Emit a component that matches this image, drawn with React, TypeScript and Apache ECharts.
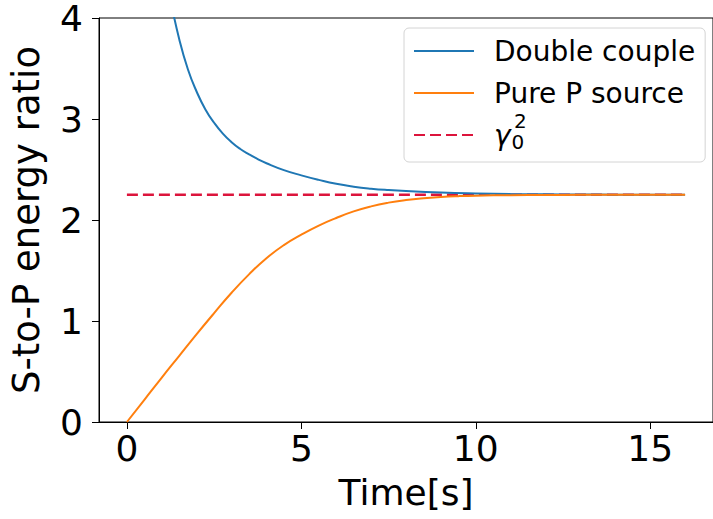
import React, { useEffect, useRef } from "react";
import * as echarts from "echarts";

const dcTimes = [1.25, 1.5, 1.75, 2.0, 2.25, 2.5, 2.75, 3.0, 3.25, 3.5, 3.75, 4.0, 4.5, 5.0, 5.5, 6.0, 6.5, 7.0, 7.5, 8.0, 9.0, 10, 11, 12, 13, 14, 15, 16];
const dcValues = [4.18, 3.79, 3.49, 3.27, 3.095, 2.963, 2.855, 2.77, 2.703, 2.65, 2.603, 2.562, 2.494, 2.442, 2.397, 2.358, 2.33, 2.31, 2.296, 2.286, 2.272, 2.263, 2.257, 2.254, 2.252, 2.251, 2.25, 2.25];

const ppTimes = [0, 0.5, 1.0, 1.5, 2.0, 2.5, 3.0, 3.5, 4.0, 4.5, 5.0, 5.5, 6.0, 6.5, 7.0, 7.5, 8.0, 8.5, 9.0, 9.5, 10, 11, 12, 13, 14, 16];
const ppValues = [0, 0.22, 0.44, 0.655, 0.87, 1.078, 1.28, 1.462, 1.622, 1.752, 1.855, 1.945, 2.02, 2.085, 2.135, 2.172, 2.198, 2.216, 2.228, 2.236, 2.241, 2.246, 2.248, 2.249, 2.25, 2.25];

const gammaTimes = [0, 16];
const gammaValues = [2.25, 2.25];

const xTicks = [0, 5, 10, 15];

const FONT = "DejaVu Sans";

export default function App() {
  const ref = useRef<HTMLDivElement>(null);
  useEffect(() => {
    if (!ref.current) return;
    const chart = echarts.init(ref.current, null, { renderer: "svg" });
    const zip = (t: number[], v: number[]) => t.map((x, i) => [x, v[i]]);
    chart.setOption({
      animation: false,
      backgroundColor: "#fff",
      grid: {
        left: 96,
        top: 15,
        right: -6,
        bottom: 97,
        show: true,
        borderColor: "#000",
        borderWidth: 1,
        backgroundColor: "transparent",
      },
      xAxis: {
        type: "value",
        min: -0.8,
        max: 16.8,
        name: "Time[s]",
        nameLocation: "middle",
        nameGap: 52,
        nameTextStyle: { fontFamily: FONT, fontSize: 36, color: "#000" },
        axisLine: { show: true, onZero: false, lineStyle: { color: "#000", width: 1 } },
        axisTick: { show: true, length: 7, inside: false, customValues: xTicks, lineStyle: { color: "#000" } },
        axisLabel: { customValues: xTicks, fontFamily: FONT, fontSize: 36, color: "#000", margin: 8 },
        splitLine: { show: false },
      },
      yAxis: {
        type: "value",
        min: 0,
        max: 4,
        interval: 1,
        name: "S-to-P energy ratio",
        nameLocation: "middle",
        nameGap: 54,
        nameTextStyle: { fontFamily: FONT, fontSize: 37, color: "#000" },
        axisLine: { show: true, onZero: false, lineStyle: { color: "#000", width: 1 } },
        axisTick: { show: true, length: 7, lineStyle: { color: "#000" } },
        axisLabel: { fontFamily: FONT, fontSize: 36, color: "#000", margin: 16 },
        splitLine: { show: false },
      },
      legend: {
        orient: "vertical",
        left: 404,
        top: 28,
        padding: [6, 10, 10, 9],
        itemWidth: 60,
        itemHeight: 14,
        itemGap: 8,
        backgroundColor: "rgba(255,255,255,0.8)",
        borderColor: "#d4d4d4",
        borderWidth: 1,
        borderRadius: 5,
        itemStyle: { opacity: 0 },
        formatter: (name: string) => (name === "gamma" ? "{g|γ}{sub|0}" : name),
        textStyle: {
          fontFamily: FONT,
          fontSize: 28,
          color: "#000",
          lineHeight: 34,
          padding: [0, 0, 0, 15],
          rich: {
            g: { fontFamily: FONT, fontStyle: "italic", fontSize: 28, color: "#000", lineHeight: 34 },
            sub: { fontFamily: FONT, fontSize: 20, color: "#000", verticalAlign: "bottom", lineHeight: 20, padding: [0, 0, 0, 1] },
          },
        },
        data: ["Double couple", "Pure P source", "gamma"],
      },
      graphic: [
        {
          type: "text",
          left: 514,
          top: 111,
          style: { text: "2", fontFamily: FONT, fontSize: 20, fill: "#000" },
          z: 100,
        },
      ],
      series: [
        {
          name: "Double couple",
          type: "line",
          data: zip(dcTimes, dcValues),
          showSymbol: false,
          symbol: "none",
          smooth: true,
          lineStyle: { color: "#1f77b4", width: 2 },
          itemStyle: { color: "#1f77b4" },
          clip: true,
        },
        {
          name: "Pure P source",
          type: "line",
          data: zip(ppTimes, ppValues),
          showSymbol: false,
          symbol: "none",
          smooth: true,
          lineStyle: { color: "#ff7f0e", width: 2 },
          itemStyle: { color: "#ff7f0e" },
          clip: true,
        },
        {
          name: "gamma",
          type: "line",
          data: zip(gammaTimes, gammaValues),
          showSymbol: false,
          symbol: "none",
          lineStyle: { color: "#dc143c", width: 2.5, type: [11, 5] },
          itemStyle: { color: "#dc143c" },
          z: 1,
        },
      ],
    });
    return () => chart.dispose();
  }, []);
  return <div ref={ref} style={{ width: 713, height: 519, position: "absolute", left: 0, top: 0 }} />;
}
